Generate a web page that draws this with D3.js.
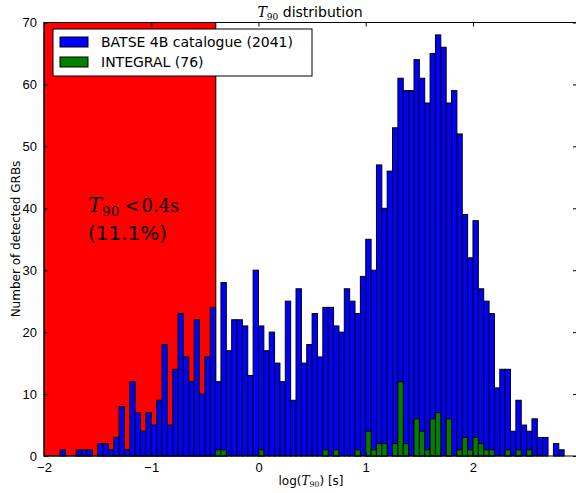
<!DOCTYPE html>
<html>
<head>
<meta charset="utf-8">
<script src="https://d3js.org/d3.v7.min.js"></script>
<style>
  body { margin: 0; background: #fff; }
  svg { display: block; font-family: "DejaVu Sans", sans-serif; }
  .axis path { display: none; }
  .axis line { stroke: #000; }
  .axis text { font-size: 13px; fill: #000; }
</style>
</head>
<body>
<script>
// histogram bins: start of first bin and bin width, in log(T90 / s)
var binStart = -2.0;
var binWidth = 0.05;

// BATSE 4B counts, one per bin (bins 0..96)
var batseCounts = [
  0, 0, 0, 1, 0, 0, 1, 1, 1, 0,
  2, 2, 1, 3, 8, 1, 12, 7, 4, 7,
  5, 9, 18, 5, 14, 23, 16, 12, 22, 10,
  16, 24, 12, 28, 17, 22, 22, 21, 13, 30,
  21, 17, 20, 15, 12, 25, 9, 27, 15, 18,
  23, 16, 24, 24, 21, 20, 27, 25, 23, 29,
  35, 30, 47, 40, 46, 53, 61, 59, 59, 64,
  61, 57, 65, 68, 66, 57, 59, 52, 39, 32,
  38, 27, 25, 23, 11, 14, 14, 4, 9, 5,
  4, 6, 3, 3, 0, 2, 1
];

// INTEGRAL counts, same bins
var integralCounts = [
  0, 0, 0, 0, 0, 0, 0, 0, 0, 0,
  0, 0, 0, 0, 0, 0, 0, 0, 0, 0,
  0, 0, 0, 0, 0, 0, 0, 0, 0, 0,
  0, 0, 1, 1, 0, 0, 0, 0, 0, 0,
  1, 0, 0, 0, 0, 0, 0, 0, 0, 0,
  0, 0, 1, 0, 1, 0, 0, 0, 1, 0,
  4, 1, 2, 2, 0, 2, 12, 2, 0, 6,
  4, 1, 6, 7, 0, 6, 0, 1, 3, 1,
  3, 2, 1, 1, 0, 0, 1, 0, 1, 0,
  1, 0, 0, 0, 0, 0, 0
];

var seriesNames = ["BATSE 4B catalogue (2041)", "INTEGRAL (76)"];
var seriesColors = ["#0000ff", "#008000"];
var shortCut = 0.4;        // seconds, limit of the red region
var shortLabel = "(11.1%)";
var xTicks = [-2, -1, 0, 1, 2];
var yTicks = [0, 10, 20, 30, 40, 50, 60, 70];

var W = 576, H = 493;
var svg = d3.select("body").append("svg")
  .attr("width", W).attr("height", H);

var x = d3.scaleLinear().domain([-2, 2.97]).range([44, 577]);
var y = d3.scaleLinear().domain([0, 70]).range([456, 22.5]);

// red region for short bursts
svg.append("rect")
  .attr("x", x(-2))
  .attr("y", y(70))
  .attr("width", x(Math.log10(shortCut)) - x(-2))
  .attr("height", y(0) - y(70))
  .attr("fill", "#ff0000")
  .attr("stroke", "#000")
  .attr("stroke-width", 1);

function drawBars(counts, color) {
  var data = counts.map(function(c, i) {
    return {lo: binStart + i * binWidth, n: c};
  }).filter(function(d) { return d.n > 0; });

  svg.append("g").selectAll("rect")
    .data(data)
    .enter().append("rect")
      .attr("x", function(d) { return x(d.lo); })
      .attr("y", function(d) { return y(d.n); })
      .attr("width", function(d) { return x(d.lo + binWidth) - x(d.lo); })
      .attr("height", function(d) { return y(0) - y(d.n); })
      .attr("fill", color)
      .attr("stroke", "#000")
      .attr("stroke-width", 1);
}

drawBars(batseCounts, seriesColors[0]);
drawBars(integralCounts, seriesColors[1]);

// axes, ticks pointing inward (all four sides)
svg.append("g").attr("class", "axis")
  .attr("transform", "translate(0," + y(0) + ")")
  .call(d3.axisBottom(x).tickValues(xTicks).tickSize(-4).tickPadding(7)
    .tickFormat(d3.format("d")));
svg.append("g").attr("class", "axis")
  .attr("transform", "translate(0," + y(70) + ")")
  .call(d3.axisTop(x).tickValues(xTicks).tickSize(-4).tickFormat(""));
svg.append("g").attr("class", "axis")
  .attr("transform", "translate(" + x(-2) + ",0)")
  .call(d3.axisLeft(y).tickValues(yTicks).tickSize(-4).tickPadding(7));
svg.append("g").attr("class", "axis")
  .attr("transform", "translate(" + x(2.97) + ",0)")
  .call(d3.axisRight(y).tickValues(yTicks).tickSize(-4).tickFormat(""));

// frame
svg.append("rect")
  .attr("x", x(-2)).attr("y", y(70))
  .attr("width", x(2.97) - x(-2)).attr("height", y(0) - y(70))
  .attr("fill", "none").attr("stroke", "#000").attr("stroke-width", 1);

// helper for T_90 in math style
function addT90(sel, size) {
  sel.append("tspan")
    .attr("font-family", "DejaVu Serif, serif")
    .attr("font-style", "italic")
    .attr("font-size", size)
    .text("T");
  sel.append("tspan")
    .attr("font-family", "DejaVu Serif, serif")
    .attr("font-size", size * 0.65)
    .attr("dy", size * 0.2)
    .text("90");
  return sel;
}

// title
var title = svg.append("text")
  .attr("x", 310).attr("y", 17)
  .attr("text-anchor", "middle")
  .attr("font-size", 14);
addT90(title, 14);
title.append("tspan").attr("dy", -14 * 0.2).text(" distribution");

// x label
var xl = svg.append("text")
  .attr("x", 311).attr("y", 485)
  .attr("text-anchor", "middle")
  .attr("font-size", 12);
xl.append("tspan").text("log(");
addT90(xl, 12);
xl.append("tspan").attr("dy", -12 * 0.2).text(") [s]");

// y label
svg.append("text")
  .attr("transform", "translate(20,239) rotate(-90)")
  .attr("text-anchor", "middle")
  .attr("font-size", 12)
  .text("Number of detected GRBs");

// annotation in the red region
var ann = svg.append("text")
  .attr("x", 88).attr("y", 212)
  .attr("font-size", 20);
addT90(ann, 21);
ann.append("tspan").attr("dy", -4).attr("dx", 5).attr("font-family", "DejaVu Serif, serif")
  .attr("font-size", 18).text("<");
ann.append("tspan").attr("dx", 2).attr("font-family", "DejaVu Serif, serif")
  .attr("font-size", 18).text("0.4s");
svg.append("text")
  .attr("x", 88).attr("y", 240)
  .attr("font-size", 20)
  .text(shortLabel);

// legend
var lg = svg.append("g").attr("transform", "translate(53,29)");
lg.append("rect")
  .attr("width", 259).attr("height", 47)
  .attr("fill", "#fff").attr("stroke", "#000").attr("stroke-width", 1);
seriesNames.forEach(function(name, i) {
  lg.append("rect")
    .attr("x", 7).attr("y", 8 + i * 20)
    .attr("width", 28).attr("height", 10)
    .attr("fill", seriesColors[i]).attr("stroke", "#000");
  lg.append("text")
    .attr("x", 48).attr("y", 18 + i * 20)
    .attr("font-size", 14)
    .text(name);
});
</script>
</body>
</html>
